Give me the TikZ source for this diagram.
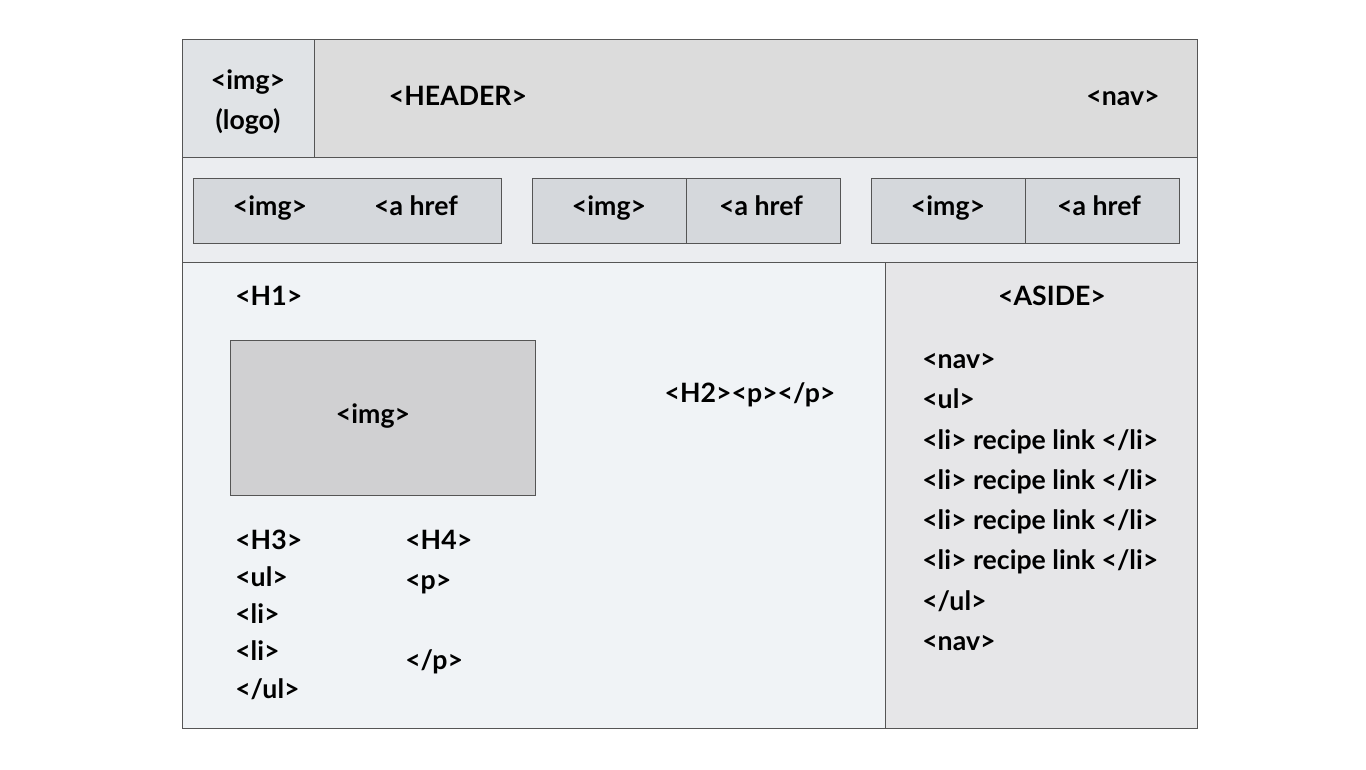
\documentclass[tikz,border=0pt]{standalone}
\usepackage{fontspec}
\setmainfont{Lato}
\usepackage{xcolor}
\usetikzlibrary{positioning}
\definecolor{linegray}{HTML}{555555}
\definecolor{headgray}{HTML}{DCDCDC}
\definecolor{logogray}{HTML}{E0E3E6}
\definecolor{rowgray}{HTML}{EBEDF0}
\definecolor{boxgray}{HTML}{D5D8DC}
\definecolor{maingray}{HTML}{F0F3F6}
\definecolor{asidegray}{HTML}{E6E6E8}
\definecolor{imggray}{HTML}{D0D0D2}
\tikzset{
  frame/.style={draw=linegray,line width=0.7pt},
  tag/.style={font=\fontsize{20}{24}\selectfont\bfseries,inner sep=0pt,anchor=base west},
  ctag/.style={tag,anchor=base},
  every node/.style={text=black}
}

\begin{document}
\begin{tikzpicture}[x=0.75pt,y=-0.75pt]
  \useasboundingbox (0,0) rectangle (1366,769);
  % bands
  \fill[headgray] (182,39) rectangle (1197,157);
  \fill[logogray] (182,39) rectangle (314,157);
  \fill[rowgray] (182,157) rectangle (1197,262);
  \fill[maingray] (182,262) rectangle (885,728);
  \fill[asidegray] (885,262) rectangle (1197,728);
  \draw[frame] (182,39) rectangle (1197,728);
  \draw[frame] (314,39) -- (314,157);
  \draw[frame] (182,157) -- (1197,157);
  \draw[frame] (182,262) -- (1197,262);
  \draw[frame] (885,262) -- (885,728);
  % header
  \node[ctag] (logoimg) at (248,89) {<img>};
  \node[ctag] (logo) at (248,129) {(logo)};
  \node[ctag] (header) at (458,105) {<HEADER>};
  \node[ctag] (nav) at (1123,105) {<nav>};
  % link boxes
  \draw[frame,fill=boxgray] (193,178) rectangle (501,243);
  \draw[frame,fill=boxgray] (532,178) rectangle (840,243);
  \draw[frame] (686,178) -- (686,243);
  \draw[frame,fill=boxgray] (871,178) rectangle (1179,243);
  \draw[frame] (1025,178) -- (1025,243);
  \foreach \i/\xa/\xb in {1/270/416,2/609/761,3/948/1099} {
    \node[ctag] (img\i) at (\xa,215) {<img>};
    \node[ctag] (href\i) at (\xb,215) {<a href};
  }
  % main column
  \node[tag] (h1) at (235,305) {<H1>};
  \draw[frame,fill=imggray] (230,340) rectangle (535,495);
  \node[ctag] (mainimg) at (373,423) {<img>};
  \node[ctag] (h2) at (750,402) {<H2><p></p>};
  \foreach \t/\y [count=\n] in {{<H3>}/549,{<ul>}/586,{<li>}/623,{<li>}/660,{</ul>}/698}
    \node[tag] (h3col\n) at (235,\y) {\t};
  \foreach \t/\y [count=\n] in {{<H4>}/549,{<p>}/589,{</p>}/669}
    \node[tag] (h4col\n) at (405,\y) {\t};
  % aside
  \node[ctag] (aside) at (1052,305) {<ASIDE>};
  \foreach \t/\y [count=\n] in {{<nav>}/368,{<ul>}/408,{<li> recipe link </li>}/449,
      {<li> recipe link </li>}/489,{<li> recipe link </li>}/529,
      {<li> recipe link </li>}/569,{</ul>}/610,{<nav>}/650}
    \node[tag] (side\n) at (922,\y) {\t};
\end{tikzpicture}
\end{document}
